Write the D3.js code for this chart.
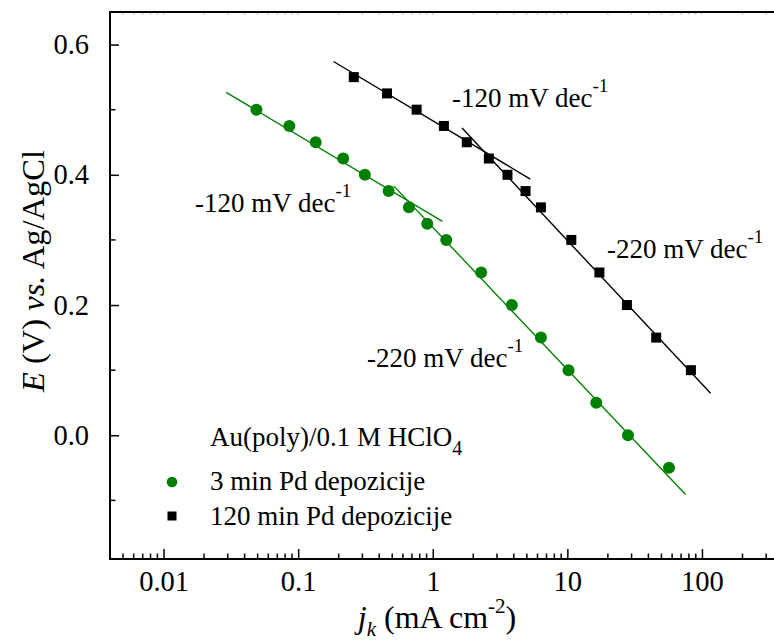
<!DOCTYPE html>
<html><head><meta charset="utf-8">
<script src="https://cdn.jsdelivr.net/npm/d3@7"></script>
</head><body style="margin:0;background:#fff"><svg id="c" width="774" height="640" style="font-family:'Liberation Serif'"></svg>
<script>
// data
const greenJ = [0.049, 0.086, 0.135, 0.216, 0.313, 0.47, 0.665, 0.91, 1.26, 2.29, 3.87, 6.36, 10.2, 16.4, 28.2, 56.9];
const greenE = [0.5, 0.475, 0.45, 0.425, 0.4, 0.375, 0.35, 0.325, 0.3, 0.25, 0.2, 0.15, 0.1, 0.05, 0.0, -0.05];
const blackJ = [0.259, 0.457, 0.759, 1.21, 1.79, 2.61, 3.59, 4.89, 6.36, 10.7, 17.3, 27.7, 45.7, 82.8];
const blackE = [0.55, 0.525, 0.5, 0.475, 0.45, 0.425, 0.4, 0.375, 0.35, 0.3, 0.25, 0.2, 0.15, 0.1];
const greenFitLow = [[0.0292, 0.5265], [1.18, 0.3285]];
const greenFitHigh = [[0.512, 0.383], [75.5, -0.091]];
const blackFitLow = [[0.183, 0.574], [5.3, 0.3935]];
const blackFitHigh = [[1.65, 0.4718], [115.9, 0.0645]];
const xMajor = [0.01, 0.1, 1, 10, 100];
const xMajorLabels = ["0.01", "0.1", "1", "10", "100"];
const yMajor = [0.0, 0.2, 0.4, 0.6];
const yMajorLabels = ["0.0", "0.2", "0.4", "0.6"];
const yMinor = [-0.1, 0.1, 0.3, 0.5];
const legendTitle = "Au(poly)/0.1 M HClO";
const seriesNames = ["3 min Pd depozicije", "120 min Pd depozicije"];
const GREEN = "#008000";
const FONT = "'Liberation Serif', 'Times New Roman', serif";

const svg = d3.select("#c");
const x = d3.scaleLog().domain([0.004, 400]).range([110, 783]);
const y = d3.scaleLinear().domain([-0.19, 0.65]).range([559, 12]);

// minor x ticks
const xMinor = [];
[0.001, 0.01, 0.1, 1, 10, 100].forEach(d => { for (let k = 2; k <= 9; k++) { const v = d * k; if (v > 0.004 && v < 400) xMinor.push(v); } });

// top axis faint ticks
const topG = svg.append("g");
xMinor.concat(xMajor).forEach(v => topG.append("line").attr("x1", x(v)).attr("x2", x(v)).attr("y1", 12).attr("y2", 14.5).attr("stroke", "#aaa").attr("stroke-width", 1));
svg.append("line").attr("x1", 109).attr("x2", 774).attr("y1", 12).attr("y2", 12).attr("stroke", "#000").attr("stroke-width", 2);

// bottom axis
const bx = svg.append("g").attr("transform", "translate(0,559)");
bx.call(d3.axisBottom(x).tickValues(xMajor).tickSize(-10).tickFormat((d, i) => xMajorLabels[i]).tickPadding(22));
bx.attr("font-family", null).attr("font-size", null);
bx.select(".domain").remove();
bx.selectAll(".tick line").attr("stroke-width", 1.5);
bx.selectAll(".tick text").style("font-family", FONT).style("font-size", "28.5px").attr("dy", "0.35em");
xMinor.forEach(v => bx.append("line").attr("x1", x(v)).attr("x2", x(v)).attr("y1", 0).attr("y2", -5.5).attr("stroke", "#000").attr("stroke-width", 1.5));
svg.append("line").attr("x1", 109).attr("x2", 774).attr("y1", 559).attr("y2", 559).attr("stroke", "#000").attr("stroke-width", 2);

// left axis
const ly = svg.append("g").attr("transform", "translate(110,0)");
ly.call(d3.axisLeft(y).tickValues(yMajor).tickSize(-9).tickFormat((d, i) => yMajorLabels[i]).tickPadding(21));
ly.attr("font-family", null).attr("font-size", null);
ly.select(".domain").remove();
ly.selectAll(".tick line").attr("stroke-width", 1.5);
ly.selectAll(".tick text").style("font-family", FONT).style("font-size", "28.5px");
yMinor.forEach(v => ly.append("line").attr("x1", 0).attr("x2", 5.5).attr("y1", y(v)).attr("y2", y(v)).attr("stroke", "#000").attr("stroke-width", 1.5));
svg.append("line").attr("x1", 110).attr("x2", 110).attr("y1", 11).attr("y2", 560).attr("stroke", "#000").attr("stroke-width", 2);

// fit lines
const line = d3.line().x(d => x(d[0])).y(d => y(d[1]));
[[greenFitLow, GREEN], [greenFitHigh, GREEN], [blackFitLow, "#000"], [blackFitHigh, "#000"]].forEach(([d, c]) =>
  svg.append("path").attr("d", line(d)).attr("stroke", c).attr("stroke-width", 1.4).attr("fill", "none"));

// markers
svg.append("g").selectAll("circle").data(greenJ.map((j, i) => [j, greenE[i]])).join("circle")
  .attr("cx", d => x(d[0])).attr("cy", d => y(d[1])).attr("r", 6).attr("fill", GREEN);
svg.append("g").selectAll("rect").data(blackJ.map((j, i) => [j, blackE[i]])).join("rect")
  .attr("x", d => x(d[0]) - 5).attr("y", d => y(d[1]) - 5).attr("width", 10).attr("height", 10).attr("fill", "#000");

function txt(xp, yp, size) {
  return svg.append("text").attr("x", xp).attr("y", yp).style("font-family", FONT).style("font-size", size + "px").attr("fill", "#000");
}

// annotations
function slope(tx, ty, main) {
  const t = txt(tx, ty, 27);
  t.append("tspan").text(main);
  t.append("tspan").style("font-size", "19px").attr("dy", -15).text("-1");
}
slope(195, 212, "-120 mV dec");
slope(452, 107, "-120 mV dec");
slope(607, 258, "-220 mV dec");
slope(367, 367, "-220 mV dec");

// legend
const lt = txt(210, 446, 27);
lt.append("tspan").text(legendTitle);
lt.append("tspan").style("font-size", "20px").attr("dy", 9).text("4");
svg.append("circle").attr("cx", 172).attr("cy", 482).attr("r", 5.3).attr("fill", GREEN);
svg.append("rect").attr("x", 167.5).attr("y", 511.5).attr("width", 9).attr("height", 9).attr("fill", "#000");
txt(210, 490, 27).text(seriesNames[0]);
txt(210, 525, 27).text(seriesNames[1]);

// axis titles
const xt = txt(437, 628, 32).attr("text-anchor", "middle");
xt.append("tspan").style("font-style", "italic").text("j");
xt.append("tspan").style("font-style", "italic").style("font-size", "21px").attr("dy", 8).text("k");
xt.append("tspan").attr("dy", -8).text(" (mA cm");
xt.append("tspan").style("font-size", "21px").attr("dy", -15).text("-2");
xt.append("tspan").attr("dy", 15).text(")");

const yt = txt(0, 0, 32.5).attr("transform", "translate(44,271) rotate(-90)").attr("text-anchor", "middle");
yt.append("tspan").style("font-style", "italic").text("E");
yt.append("tspan").text(" (V) ");
yt.append("tspan").style("font-style", "italic").text("vs.");
yt.append("tspan").text(" Ag/AgCl");
</script></body></html>
